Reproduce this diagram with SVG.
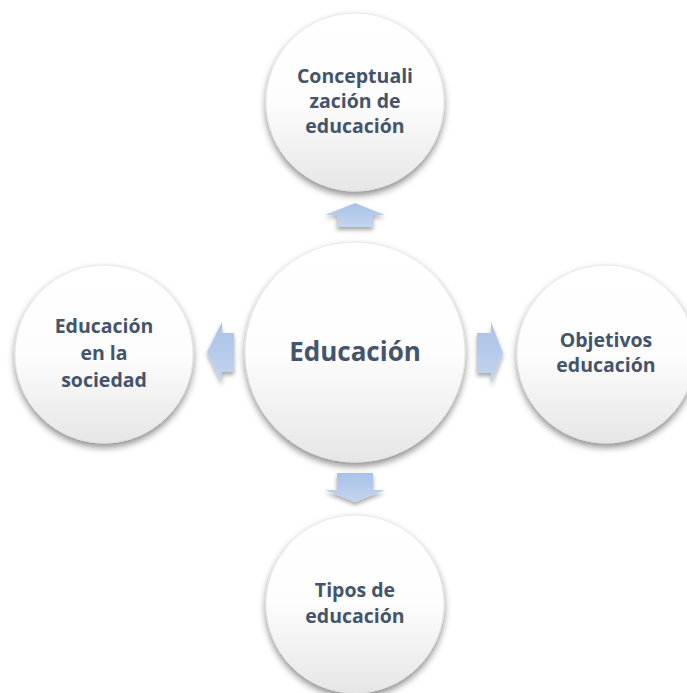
<svg xmlns="http://www.w3.org/2000/svg" width="687" height="693" viewBox="0 0 687 693">
  <defs>
    <linearGradient id="circGrad" x1="0" y1="0" x2="0" y2="1">
      <stop offset="0" stop-color="#ffffff"/>
      <stop offset="0.5" stop-color="#fdfdfd"/>
      <stop offset="1" stop-color="#e6e6e6"/>
    </linearGradient>
    <linearGradient id="arrGradV" x1="0" y1="0" x2="0" y2="1">
      <stop offset="0" stop-color="#a9c2e8"/>
      <stop offset="1" stop-color="#c3d5ef"/>
    </linearGradient>
    <linearGradient id="arrGradH" x1="0" y1="0" x2="0" y2="1">
      <stop offset="0" stop-color="#a9c2e8"/>
      <stop offset="1" stop-color="#c3d5ef"/>
    </linearGradient>
    <filter id="shadow" x="-20%" y="-20%" width="140%" height="150%">
      <feDropShadow dx="0" dy="4" stdDeviation="3.5" flood-color="#000" flood-opacity="0.45"/>
    </filter>
    <filter id="arrShadow" x="-30%" y="-30%" width="160%" height="170%">
      <feDropShadow dx="0" dy="3" stdDeviation="2" flood-color="#000" flood-opacity="0.35"/>
    </filter>
  </defs>
  <style>
    .circ { fill: url(#circGrad); stroke: #e2e2e2; stroke-width: 0.8; filter: url(#shadow); }
    .arr { fill: url(#arrGradV); filter: url(#arrShadow); }
    .lbl { font-family: "Open Sans", "Liberation Sans", sans-serif; font-weight: bold; font-size: 19.5px; fill: #44546a; text-anchor: middle; }
    .big { font-size: 26px; }
  </style>
  <rect width="687" height="693" fill="#ffffff"/>

  <g id="connectors">
    <path class="arr" d="M355,203 L385,215 L373,215 L373,227 L337,227 L337,215 L325,215 Z"/>
    <path class="arr" d="M337,473 L373,473 L373,490 L385,490 L355,502 L325,490 L337,490 Z"/>
    <path class="arr" d="M207,352 L222,322 L222,333 L234,333 L234,372 L222,372 L222,383 Z"/>
    <path class="arr" d="M477,333 L491,333 L491,322 L503,353 L491,384 L491,373 L477,373 Z"/>
  </g>

  <g id="node-center">
    <circle class="circ" cx="355" cy="352" r="110"/>
    <text class="lbl big" x="355" y="361">Educación</text>
  </g>

  <g id="node-top">
    <circle class="circ" cx="355" cy="102" r="89"/>
    <text class="lbl" x="355" y="83">Conceptuali</text>
    <text class="lbl" x="355" y="108">zación de</text>
    <text class="lbl" x="355" y="133">educación</text>
  </g>

  <g id="node-left">
    <circle class="circ" cx="104" cy="354" r="89"/>
    <text class="lbl" x="104" y="333">Educación</text>
    <text class="lbl" x="104" y="360">en la</text>
    <text class="lbl" x="104" y="387">sociedad</text>
  </g>

  <g id="node-right">
    <circle class="circ" cx="606" cy="354" r="89"/>
    <text class="lbl" x="606" y="347">Objetivos</text>
    <text class="lbl" x="606" y="372">educación</text>
  </g>

  <g id="node-bottom">
    <circle class="circ" cx="355" cy="604" r="89"/>
    <text class="lbl" x="355" y="597">Tipos de</text>
    <text class="lbl" x="355" y="623">educación</text>
  </g>
</svg>
